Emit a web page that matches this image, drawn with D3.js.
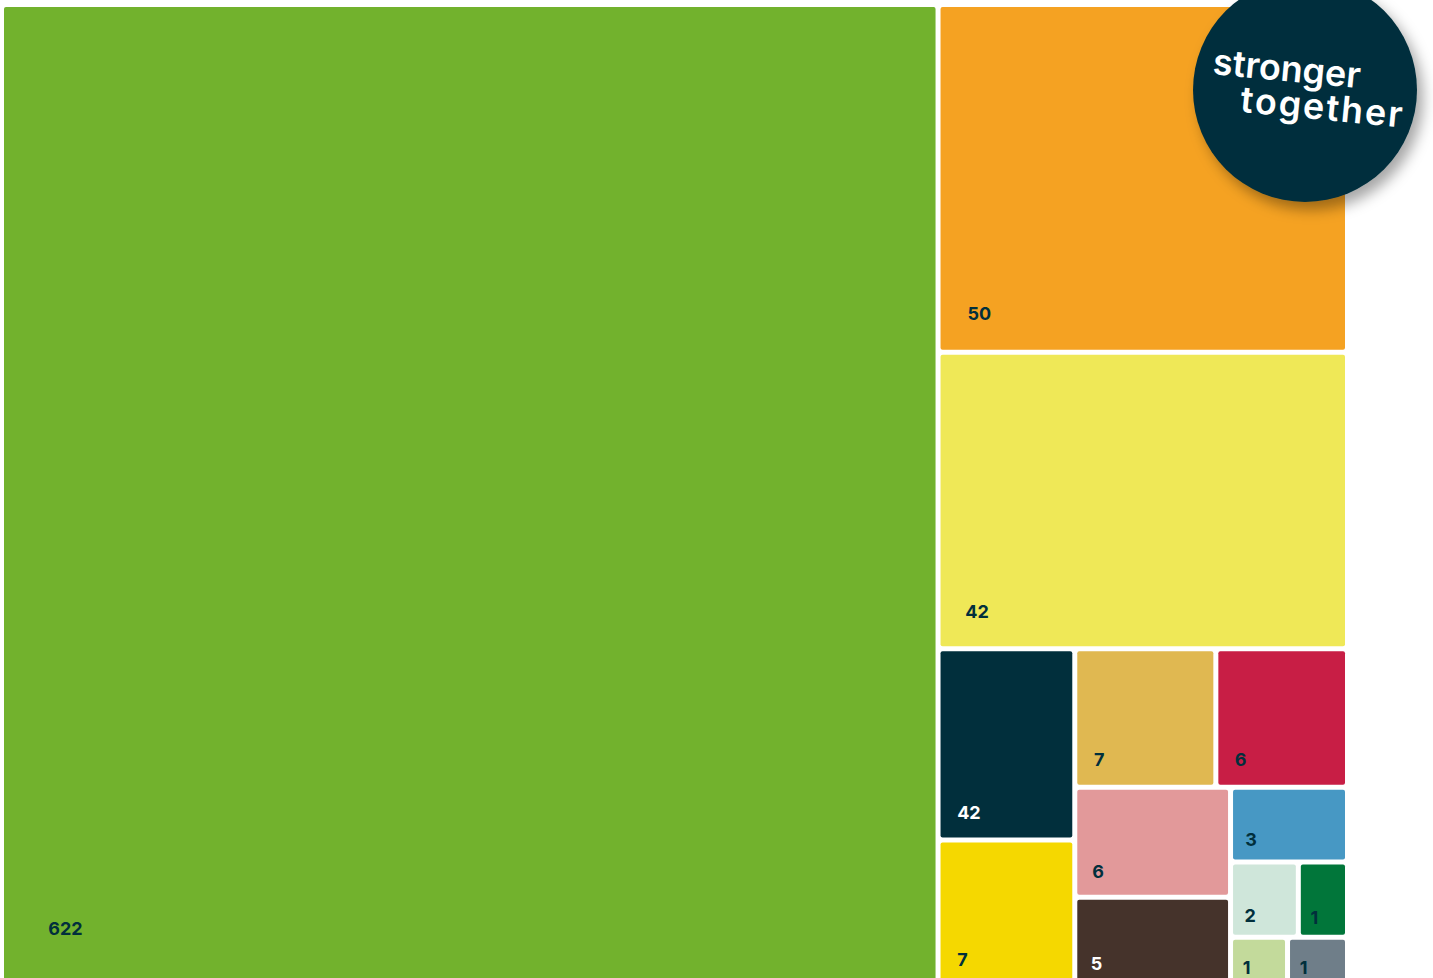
<!DOCTYPE html>
<html>
<head>
<meta charset="utf-8">
<style>
	html, body {
		margin: 0;
		padding: 0;
		background: #fff;
		overflow: hidden;
	}

	.cells text {
		font-family: Inter, "Open Sans", sans-serif;
		font-size: 18px;
		font-weight: 700;
	}

	.logo text {
		font-family: Inter, "Open Sans", sans-serif;
		font-weight: 600;
		fill: #fff;
	}
</style>
</head>
<body>
<svg width="1433" height="978"></svg>
<script src="https://cdn.jsdelivr.net/npm/d3@7"></script>
<script>

	// counts shown on the tiles
	var names = ["a", "b", "c", "d", "e", "f", "g", "h", "i", "j", "k", "l", "m", "n"];
	var counts = [622, 50, 42, 42, 7, 7, 6, 6, 5, 3, 2, 1, 1, 1];
	// tile weights, estimated from the tile areas in the picture
	var areas = [918, 142, 121, 26.1, 20.1, 19.5, 18.2, 17.1, 14.0, 8.7, 5.1, 3.7, 2.85, 3.0];
	var colors = ["#72b22d", "#f5a222", "#efe857", "#012f3c", "#f5d800", "#e0b851", "#c81e45",
		"#e2999a", "#45332b", "#4798c4", "#cfe6da", "#01763a", "#c3da9b", "#6f7e89"];
	var lightText = ["d", "i"];

	var svg = d3.select("svg"),
		width = 1341,
		height = 978;

	var data = {
		name: "root",
		children: names.map(function (n, i) {
			return { name: n, count: counts[i], size: areas[i], color: colors[i] };
		})
	};

	var root = d3.hierarchy(data).sum(function (d) { return d.size || 0; });

	d3.treemap()
		.tile(d3.treemapSquarify.ratio(1))
		.size([width, height])
		.paddingInner(5)(root);

	var g = svg.append("g")
		.attr("class", "cells")
		.attr("transform", "translate(4,7)");

	var cell = g.selectAll("g")
		.data(root.leaves())
		.enter().append("g")
		.attr("transform", function (d) { return "translate(" + d.x0 + "," + d.y0 + ")"; });

	cell.append("rect")
		.attr("width", function (d) { return d.x1 - d.x0; })
		.attr("height", function (d) { return d.y1 - d.y0; })
		.attr("rx", 2)
		.attr("fill", function (d) { return d.data.color; });

	cell.append("text")
		.text(function (d) { return d.data.count; })
		.attr("x", function (d) { return pad(d); })
		.attr("y", function (d) { return d.y1 - d.y0 - 1.12 * pad(d); })
		.attr("fill", function (d) { return lightText.indexOf(d.data.name) >= 0 ? "#fff" : "#012f3c"; });

	function pad(d) {
		return 1.45 * Math.sqrt(Math.min(d.x1 - d.x0, d.y1 - d.y0));
	}

	// badge in the top right corner
	var defs = svg.append("defs");
	var f = defs.append("filter").attr("id", "shadow")
		.attr("x", "-30%").attr("y", "-30%").attr("width", "160%").attr("height", "160%");
	f.append("feDropShadow")
		.attr("dx", 6).attr("dy", 8)
		.attr("stdDeviation", 7)
		.attr("flood-color", "#000")
		.attr("flood-opacity", 0.35);

	var logo = svg.append("g")
		.attr("class", "logo")
		.attr("transform", "translate(1305,90)");

	logo.append("circle")
		.attr("r", 112)
		.attr("fill", "#012f3c")
		.attr("filter", "url(#shadow)");

	var words = logo.append("g").attr("transform", "rotate(5.5)");
	words.append("text")
		.attr("x", -94).attr("y", -7)
		.attr("font-size", 36)
		.attr("letter-spacing", 0)
		.text("stronger");
	words.append("text")
		.attr("x", -63).attr("y", 28)
		.attr("font-size", 36)
		.attr("letter-spacing", 2)
		.text("together");

</script>
</body>
</html>
